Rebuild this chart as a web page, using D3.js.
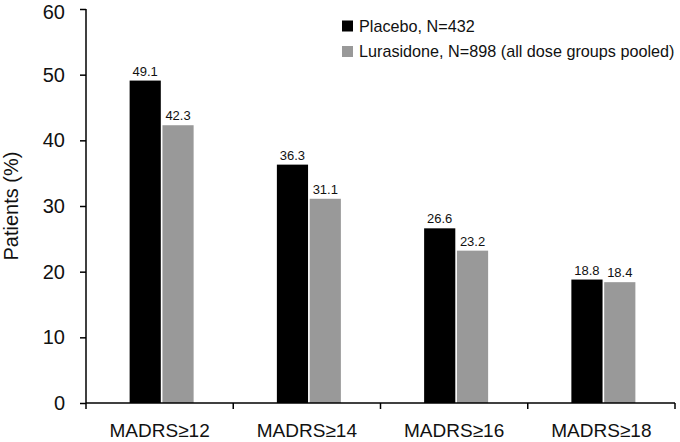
<!DOCTYPE html>
<html><head><meta charset="utf-8">
<script src="https://cdn.jsdelivr.net/npm/d3@7"></script>
<style>body{margin:0;background:#fff}svg{display:block;font-family:"Liberation Sans",Arial,sans-serif}</style>
</head><body>
<svg id="c" width="680" height="442"></svg>
<script>
const categories = ["MADRS≥12","MADRS≥14","MADRS≥16","MADRS≥18"];
const seriesNames = ["Placebo, N=432","Lurasidone, N=898 (all dose groups pooled)"];
const placebo = [49.1, 36.3, 26.6, 18.8];
const lurasidone = [42.3, 31.1, 23.2, 18.4];
const yTicks = [0,10,20,30,40,50,60];
const colors = ["#000000","#999999"];

const svg = d3.select("#c");
const m = {left:86, right:5, top:9, bottom:39};
const W = 680, H = 442;
const x = d3.scaleBand().domain(categories).range([m.left, W - m.right]);
const y = d3.scaleLinear().domain([0,60]).range([H - m.bottom, m.top]);
const x1 = d3.scaleBand().domain([0,1]).range([0, 64]).paddingInner(0.05);

const series = [placebo, lurasidone];
const g = svg.append("g");
categories.forEach((c,i)=>{
  const gx = x(c) + x.bandwidth()/2 - 32 + 2;
  series.forEach((s,k)=>{
    g.append("rect").attr("x", gx + x1(k)).attr("y", y(s[i]))
      .attr("width", x1.bandwidth()).attr("height", y(0)-y(s[i])).attr("fill", colors[k]);
    g.append("text").attr("x", gx + x1(k) + x1.bandwidth()/2).attr("y", y(s[i]) - 5)
      .attr("text-anchor","middle").attr("font-size",13).attr("fill","#111").text(s[i].toFixed(1));
  });
});

// y axis
const ya = svg.append("g").attr("transform",`translate(${m.left},0)`)
  .call(d3.axisLeft(y).tickValues(yTicks).tickSize(6).tickPadding(15));
ya.selectAll("text").attr("font-size",20).attr("fill","#111").attr("font-family","Liberation Sans, Arial, sans-serif");
ya.selectAll(".tick").filter(d=>d===60).select("text").attr("dy","0.45em");
ya.select(".domain").attr("d", `M0,${y(60)}V${y(0)}`).attr("stroke","#000").attr("stroke-width",1.5);
ya.selectAll(".tick line").attr("stroke","#000").attr("stroke-width",1.5);

// x axis
const xa = svg.append("g").attr("transform",`translate(0,${y(0)})`)
  .call(d3.axisBottom(x).tickSize(0).tickPadding(17));
xa.select(".domain").attr("d", `M${m.left},0H${W-m.right}`).attr("stroke","#000").attr("stroke-width",1.5);
xa.selectAll("text").attr("font-size",19).attr("fill","#111").attr("font-family","Liberation Sans, Arial, sans-serif").attr("dy","0.9em");
const bounds = categories.map(c=>x(c)).concat([W-m.right]);
xa.selectAll(".sep").data(bounds).enter().append("line").attr("class","sep")
  .attr("x1",d=>d).attr("x2",d=>d).attr("y1",0).attr("y2",6).attr("stroke","#000").attr("stroke-width",1.5);

// y title
svg.append("text").attr("transform",`translate(18,${(y(0)+y(60))/2}) rotate(-90)`)
  .attr("text-anchor","middle").attr("font-size",20).attr("fill","#111").text("Patients (%)");

// legend
const lg = svg.append("g");
seriesNames.forEach((n,k)=>{
  const ly = 26 + k*25.5;
  lg.append("rect").attr("x",342).attr("y",ly-5.5).attr("width",11).attr("height",11).attr("fill",colors[k]);
  lg.append("text").attr("x",359).attr("y",ly).attr("dy","0.35em").attr("font-size",16.2).attr("fill","#111").text(n);
});
</script>
</body></html>
